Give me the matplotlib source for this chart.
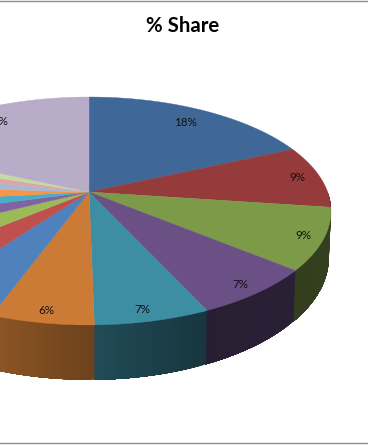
import numpy as np
import matplotlib
matplotlib.use("Agg")
import matplotlib.pyplot as plt
from matplotlib.colors import to_rgb

title = "% Share"
shares = [18.3, 8.9, 8.8, 7.2, 6.6, 5.9, 4.5, 3.8, 3.8, 3.1, 2.6, 2.6, 2.3, 1.8, 1.7, 18.3]
colors = ["#3F6797", "#953B3B", "#7D9A48", "#6A5085", "#3D8DA3", "#CB7B35",
          "#4F81BD", "#C0504D", "#9BBB59", "#8064A2", "#4BACC6", "#F79646",
          "#A5B8D8", "#DDA5A4", "#C6D9A5", "#B8ACC8"]
# radial position of each visible data label; None = label lies outside the crop
label_radius = [.83, .90, .92, .92, .92, .92, None, None, None, None, None, None, None, None, None, .83]
label_turn = [0, 0, 0, 0.5, 1.0, 0, 0, 0, 0, 0, 0, 0, 0, 0, 0, 1.5]

# perspective model of the tilted disc (pixels)
CX, K = 89.0, 1 / 6
TOP = dict(cy=192.0, rx=238.6, ry=110.8)
BOTTOM = dict(cy=237.0, rx=236.5, ry=119.0)
# wall shading against clockwise angle from 12 o'clock
SHADE_T = [90, 130, 155, 180, 200, 230, 270]
SHADE_F = [.42, .40, .38, .54, .70, .80, .85]


def project(t, r=1.0, g=TOP):
    u, v = r * np.sin(t), r * np.cos(t)
    d = 1 + K * v
    return CX + g["rx"] * u / d, g["cy"] - g["ry"] * v / d


fig = plt.figure(figsize=(3.68, 4.45), dpi=100, facecolor="white")
ax = fig.add_axes([0, 0, 1, 1])
ax.set_xlim(0, 368)
ax.set_ylim(445, 0)
ax.axis("off")

edges = np.cumsum([0] + shares) / sum(shares) * 2 * np.pi

# outer wall: each band runs to the slice end and is overdrawn by the next, so no seams
for a, b, c in zip(edges[:-1], edges[1:], colors):
    lo, hi = max(a, np.pi / 2), min(b, 3 * np.pi / 2)
    if hi <= lo:
        continue
    steps = np.linspace(lo, hi, max(2, int((hi - lo) * 120)))
    for s0, s1 in zip(steps[:-1], steps[1:]):
        ts = np.linspace(s0, hi, 30)
        x0, y0 = project(ts, g=TOP)
        x1, y1 = project(ts[::-1], g=BOTTOM)
        f = np.interp(np.degrees((s0 + s1) / 2), SHADE_T, SHADE_F)
        col = tuple(f * np.array(to_rgb(c)))
        ax.fill(np.r_[x0, x1], np.r_[y0, y1], color=col, lw=0, zorder=2)

# top face
for a, b, c in zip(edges[:-1], edges[1:], colors):
    ts = np.linspace(a, b, 60)
    x, y = project(ts)
    ax.fill(np.r_[CX, x], np.r_[TOP["cy"], y], color=c, lw=0.3, zorder=3)

# data labels
for a, b, s, r, d in zip(edges[:-1], edges[1:], shares, label_radius, label_turn):
    if r is None:
        continue
    x, y = project((a + b) / 2 + np.radians(d), r)
    ax.text(x, y, f"{s:.0f}%", ha="center", va="center", fontsize=8.4,
            family="Lato", color="#111111", zorder=4)

ax.text(183, 26, title, ha="center", va="center", fontsize=14.7, fontweight="bold",
        family="Lato", color="black", zorder=4)

# chart frame
ax.axhline(1.2, color="#8E8E8E", lw=1.0, zorder=5)
ax.axhline(442.5, color="#8E8E8E", lw=1.0, zorder=5)

fig.savefig("out.png", dpi=100, facecolor="white")
